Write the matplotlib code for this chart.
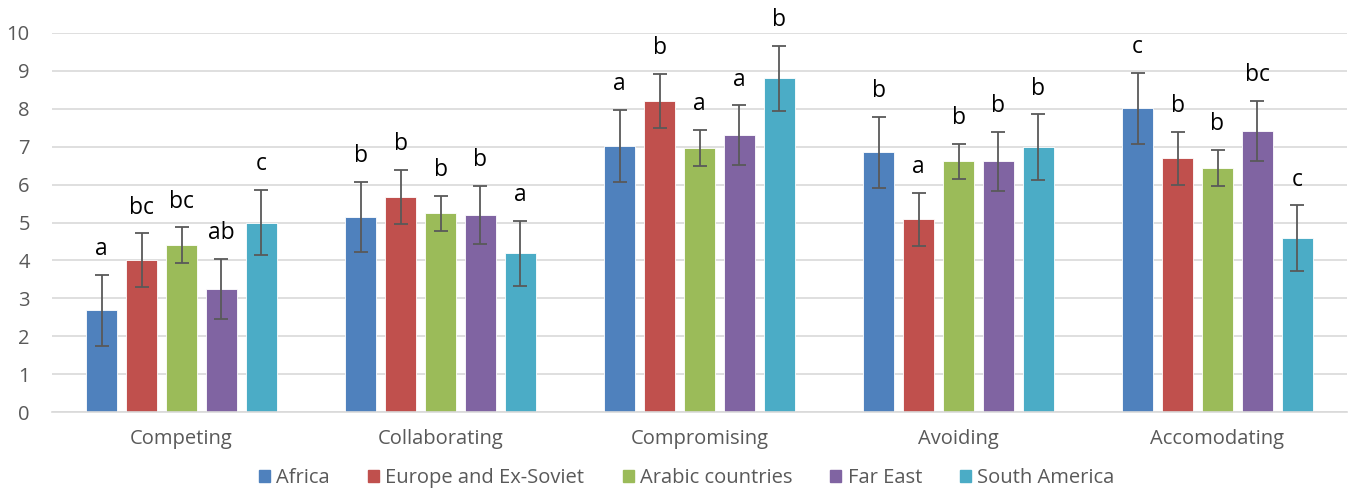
import numpy as np
import matplotlib
matplotlib.use('Agg')
import matplotlib.pyplot as plt
from matplotlib.patches import Patch

#=============================================================================#
# Data #
#=============================================================================#
categories = ['Competing', 'Collaborating', 'Compromising', 'Avoiding', 'Accomodating']
regions = ['Africa', 'Europe and Ex-Soviet', 'Arabic countries', 'Far East', 'South America']

africa   = [2.68, 5.15, 7.03, 6.85, 8.01]
europe   = [4.00, 5.68, 8.20, 5.08, 6.69]
arabic   = [4.40, 5.24, 6.97, 6.61, 6.43]
fareast  = [3.25, 5.19, 7.30, 6.61, 7.41]
samerica = [5.00, 4.19, 8.80, 6.99, 4.59]

africa_err   = [0.94, 0.92, 0.95, 0.94, 0.94]
europe_err   = [0.71, 0.71, 0.71, 0.71, 0.71]
arabic_err   = [0.47, 0.47, 0.48, 0.47, 0.48]
fareast_err  = [0.79, 0.77, 0.79, 0.77, 0.79]
samerica_err = [0.87, 0.86, 0.87, 0.86, 0.86]

africa_lbl   = ['a', 'b', 'a', 'b', 'c']
europe_lbl   = ['bc', 'b', 'b', 'a', 'b']
arabic_lbl   = ['bc', 'b', 'a', 'b', 'b']
fareast_lbl  = ['ab', 'b', 'a', 'b', 'bc']
samerica_lbl = ['c', 'a', 'b', 'b', 'c']
#=============================================================================#

series = [africa, europe, arabic, fareast, samerica]
errs = [africa_err, europe_err, arabic_err, fareast_err, samerica_err]
lbls = [africa_lbl, europe_lbl, arabic_lbl, fareast_lbl, samerica_lbl]
colors = ['#4F81BD', '#C0504D', '#9BBB59', '#8064A2', '#4BACC6']

plt.rcParams['font.family'] = ['Open Sans', 'DejaVu Sans']

fig = plt.figure(figsize=(13.52, 4.91), dpi=100)
ax = fig.add_axes([52/1352, 1 - 412/491, 1295/1352, 379/491])

x = np.arange(len(categories))
step = 0.154
width = 0.12
for i in range(len(series)):
    pos = x + (i - 2) * step
    ax.bar(pos, series[i], width, color=colors[i], edgecolor='white', linewidth=0.6,
           zorder=2)
    ax.errorbar(pos, series[i], yerr=errs[i], fmt='none', ecolor='#595959',
                elinewidth=1.3, capsize=5, capthick=1.3, zorder=3)
    for j in range(len(categories)):
        ax.annotate(lbls[i][j], (pos[j], series[i][j] + errs[i][j]),
                    xytext=(0, 10), textcoords='offset points', ha='center',
                    va='bottom', fontsize=16.5, color='black')

ax.set_xlim(-0.5, 4.5)
ax.set_ylim(0, 10)
ax.set_yticks(range(0, 11))
ax.set_xticks(x)
ax.set_xticklabels(categories)
ax.yaxis.grid(True, color='#D9D9D9', linewidth=1.2, zorder=0)
ax.set_axisbelow(True)
for s in ['top', 'right', 'left']:
    ax.spines[s].set_visible(False)
ax.spines['bottom'].set_color('#D9D9D9')
ax.spines['bottom'].set_linewidth(1.2)
ax.tick_params(axis='both', length=0, labelcolor='#595959', labelsize=14.5)
ax.tick_params(axis='x', pad=12)
ax.tick_params(axis='y', pad=16)

handles = [Patch(color=colors[i], label=regions[i]) for i in range(len(regions))]
fig.legend(handles=handles, loc='center', bbox_to_anchor=(0.508, 1 - 478/491),
           ncol=5, frameon=False, fontsize=14.5, handlelength=0.55, handleheight=0.55,
           handletextpad=0.3, columnspacing=1.9, labelcolor='#595959')

fig.savefig('out.png', dpi=100)
